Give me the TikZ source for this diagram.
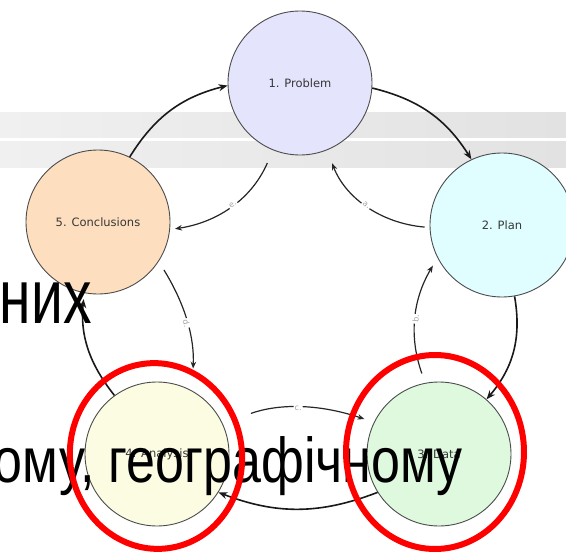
\documentclass[tikz,border=0pt]{standalone}
\usepackage{fontspec}
\usepackage{graphicx}
\setmainfont{Liberation Sans}
\newfontfamily\labfont{DejaVu Sans}
\usetikzlibrary{arrows.meta}
\definecolor{cprob}{RGB}{228,228,252}
\definecolor{cplan}{RGB}{224,254,255}
\definecolor{cdata}{RGB}{222,249,222}
\definecolor{canal}{RGB}{252,252,226}
\definecolor{cconc}{RGB}{253,223,192}
\definecolor{cborder}{RGB}{75,75,75}
\definecolor{ctext}{RGB}{55,55,55}
\definecolor{bandL}{RGB}{240,240,240}
\definecolor{bandR}{RGB}{226,226,226}
\definecolor{cred}{RGB}{255,0,0}
\tikzset{
  stage/.style={circle, draw=cborder, line width=0.9pt, minimum size=144pt, inner sep=0pt,
    font=\labfont\fontsize{11.5}{12}\selectfont, text=ctext},
  outer/.style={line width=1.6pt, draw=black!90, -{Stealth[length=9pt,width=7pt]}},
  inner/.style={line width=1.2pt, draw=black!85, -{Stealth[length=7pt,width=5.5pt]}},
  lab/.style={midway, sloped, fill=white, inner sep=1pt, font=\labfont\fontsize{8}{8}\selectfont, text=gray!70},
  bigtext/.style={anchor=base east, inner sep=0pt, text=black},
  redring/.style={draw=cred, line width=6pt}
}
\begin{document}
\begin{tikzpicture}[x=1pt,y=1pt]
\useasboundingbox (0,0) rectangle (566,-557);
% bands
\fill[left color=bandL, right color=bandR] (0,-112) rectangle (566,-137);
\fill[left color=bandL, right color=bandR] (0,-141) rectangle (566,-167);
% stages
\node[stage, fill=cprob] (prob) at (300,-83) {1. Problem};
\node[stage, fill=cplan] (plan) at (502,-225) {2. Plan};
\node[stage, fill=cdata] (data) at (439,-454) {3. Data};
\node[stage, fill=canal] (anal) at (157,-454) {4. Analysis};
\node[stage, fill=cconc] (conc) at (98,-222) {5. Conclusions};
% outer cycle
\draw[outer] (conc.64) to[bend left=22] (prob.182);
\draw[outer] (prob.356) to[bend left=22] (plan.115);
\draw[outer] (plan.280) to[bend left=25] (data.49);
\draw[outer] (data.212) to[bend left=21] (anal.328);
\draw[outer, shorten >=6pt] (anal.126) to[bend left=22] (conc.259);
% inner cycle
\draw[inner, shorten <=5pt, shorten >=14pt] (plan.182) to[bend left=32] node[lab]{a.} (prob.292);
\draw[inner, shorten <=10pt, shorten >=9pt] (data.101) to[bend left=25] node[lab]{b.} (plan.207);
\draw[inner, shorten <=30pt, shorten >=10pt] (anal.25) to[bend left=19] node[lab]{c.} (data.154);
\draw[inner, shorten <=10pt, shorten >=22pt] (conc.327) to[bend left=17] node[lab]{d.} (anal.61);
\draw[inner, shorten <=14pt, shorten >=5pt] (prob.248) to[bend left=29] node[lab]{e.} (conc.354);
% overlaid slide text
\node[bigtext] (t1) at (92,-323) {\scalebox{1}[1.35]{\fontsize{57}{60}\selectfont них}};
\node[bigtext] (t2) at (463,-482) {\scalebox{1}[1.22]{\fontsize{52}{60}\selectfont ому, географічному}};
% red rings
\draw[redring, rotate around={8:(156,-456)}] (156,-456) ellipse [x radius=86, y radius=93];
\draw[redring] (435,-452) ellipse [x radius=89, y radius=97];
\end{tikzpicture}
\end{document}
